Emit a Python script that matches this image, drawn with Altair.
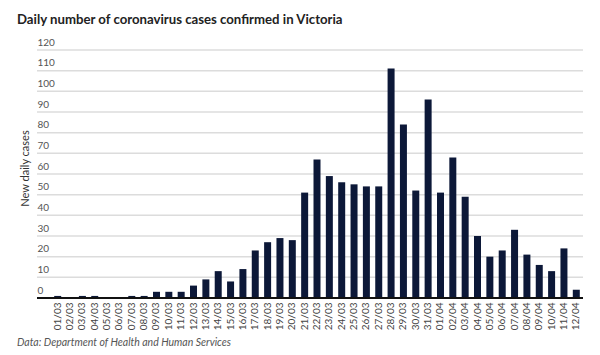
import altair as alt
import pandas as pd

dates = [f"{d:02d}/03" for d in range(1, 32)] + [f"{d:02d}/04" for d in range(1, 13)]
cases = [1, 0, 1, 1, 0, 0, 1, 1, 3, 3, 3, 6, 9, 13, 8, 14, 23, 27, 29, 28,
         51, 67, 59, 56, 55, 54, 54, 111, 84, 52, 96,
         51, 68, 49, 30, 20, 23, 33, 21, 16, 13, 24, 4]
y_ticks = [10, 20, 30, 40, 50, 60, 70, 80, 90, 100, 110, 120]
source_note = ["Data: Department of Health and Human Services"]

df = pd.DataFrame({"date": dates, "cases": cases})
grid_df = pd.DataFrame({"cases": y_ticks})
one_df = pd.DataFrame({"t": source_note})

W, H = 526, 248
FONT = "Lato"

y_axis = alt.Axis(values=[0] + y_ticks, grid=False, domain=False, ticks=False,
                  labelOverlap=False,
                  labelAlign="left", labelBaseline="bottom", labelPadding=17,
                  labelOffset=-3, labelFont=FONT, labelFontSize=10,
                  labelColor="#555", titleFont=FONT, titleFontSize=11,
                  titleFontWeight="normal", titleColor="#333",
                  titleX=-29, titleY=118, titleAngle=-90,
                  titleAlign="center", titleBaseline="middle")
y_scale = alt.Scale(domain=[0, 120], nice=False)

grid = alt.Chart(grid_df).mark_rule(color="#dcdcdc", strokeWidth=1.5).encode(
    y=alt.Y("cases:Q", scale=y_scale, title="New daily cases", axis=y_axis),
    x=alt.value(-17),
    x2=alt.value(W + 3),
)

bars = alt.Chart(df).mark_bar(color="#0c1838", width=7).encode(
    x=alt.X("date:O", sort=None, title=None,
            scale=alt.Scale(paddingInner=0.4, paddingOuter=0.0),
            axis=alt.Axis(labelAngle=-90, labelFont=FONT, labelFontSize=10,
                          labelColor="#444", ticks=False, domain=False,
                          labelPadding=4, labelBaseline="middle", labelOverlap=False)),
    y=alt.Y("cases:Q", scale=y_scale, title="New daily cases", axis=y_axis),
)

baseline = alt.Chart(one_df).mark_rule(color="#111", strokeWidth=2).encode(
    x=alt.value(-17), x2=alt.value(W + 3), y=alt.value(H)
)

footer = alt.Chart(one_df).mark_text(
    align="left", baseline="middle", font=FONT, fontStyle="italic",
    fontSize=10.5, color="#555"
).encode(text="t:N", x=alt.value(-37), y=alt.value(H + 45))

chart = alt.layer(grid, bars, baseline, footer).properties(
    width=W, height=H,
    title=alt.TitleParams(
        "Daily number of coronavirus cases confirmed in Victoria",
        anchor="start", frame="group", dx=-37, offset=10, font=FONT, fontSize=13.2,
        fontWeight="bold", color="#222"),
    padding={"left": 54, "top": 50, "right": 20, "bottom": 57},
    autosize=alt.AutoSizeParams(type="none"),
).configure_view(stroke=None)

chart.save("out.html", embed_options={"renderer": "svg", "actions": False})
